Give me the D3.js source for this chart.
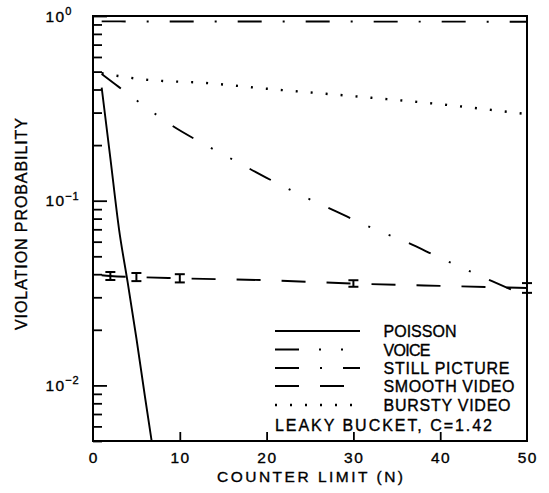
<!DOCTYPE html>
<html><head><meta charset="utf-8">
<script src="https://cdn.jsdelivr.net/npm/d3@7/dist/d3.min.js"></script>
<style>html,body{margin:0;padding:0;background:#fff;}svg{display:block;}
text{stroke:#000;stroke-width:0.35px;fill:#000;}</style>
</head><body><svg id="c" width="549" height="493"></svg>
<script>
// ---- data ----
const xTicks = [0, 10, 20, 30, 40, 50];
const yMajor = [1, 0.1, 0.01];
const yMajorExp = ["0", "\u22121", "\u22122"];

const poissonN = [1, 2, 3, 4, 5, 6, 7];
const poissonP = [0.41, 0.17, 0.07, 0.036, 0.018, 0.0086, 0.0042];

const voiceN = [1, 3, 5, 7, 9, 13, 16, 20, 24, 28, 32, 36, 40, 44, 48, 50];
const voiceP = [0.485, 0.412, 0.350, 0.299, 0.257, 0.200, 0.168, 0.133, 0.107, 0.0875, 0.0716, 0.060, 0.049, 0.0403, 0.0333, 0.0302];

const stillN = [1, 10, 20, 30, 40, 50];
const stillP = [0.935, 0.934, 0.934, 0.933, 0.932, 0.931];

const smoothN = [1, 2, 5, 10, 20, 30, 40, 50];
const smoothP = [0.0395, 0.0391, 0.0386, 0.038, 0.0371, 0.0356, 0.0346, 0.0337];
const barN  = [2, 5, 10, 30, 50];
const barLo = [0.0372, 0.0367, 0.0361, 0.0342, 0.0317];
const barHi = [0.0411, 0.0406, 0.0400, 0.0371, 0.0358];

const burstyN = [1, 2, 3, 5, 8, 12, 20, 30, 40, 50];
const burstyP = [0.49, 0.48, 0.473, 0.458, 0.445, 0.437, 0.404, 0.368, 0.333, 0.294];

const seriesNames = ["POISSON", "VOICE", "STILL PICTURE", "SMOOTH VIDEO", "BURSTY VIDEO"];
const legendNote = "LEAKY BUCKET, C=1.42";
const xTitle = "COUNTER LIMIT (N)";
const yTitle = "VIOLATION PROBABILITY";

// ---- layout ----
const L = 93, R = 527, T = 16, B = 441;
const FONT = "'Liberation Sans', Arial, sans-serif";
const svg = d3.select("#c");
const x = d3.scaleLinear().domain([0, 50]).range([L, R]);
const y = d3.scaleLog().domain([0.005, 1]).range([B, T]);

const dashes = {
  "POISSON": null,
  "VOICE": "24,20,2,20,2,20",
  "STILL PICTURE": "24,21,2,21",
  "SMOOTH VIDEO": "24,21",
  "BURSTY VIDEO": "2,13"
};

svg.append("defs").append("clipPath").attr("id", "clip")
  .append("rect").attr("x", L).attr("y", T).attr("width", R - L).attr("height", B - T);

const line = d3.line().x(d => x(d[0])).y(d => y(d[1])).curve(d3.curveMonotoneX);
const zip = (a, b) => a.map((v, i) => [v, b[i]]);

const plot = svg.append("g").attr("clip-path", "url(#clip)");
const series = [
  ["POISSON", zip(poissonN, poissonP)],
  ["VOICE", zip(voiceN, voiceP)],
  ["STILL PICTURE", zip(stillN, stillP)],
  ["SMOOTH VIDEO", zip(smoothN, smoothP)],
  ["BURSTY VIDEO", zip(burstyN, burstyP)]
];
series.forEach(([name, pts]) => {
  plot.append("path").attr("d", line(pts))
    .attr("fill", "none").attr("stroke", "#000")
    .attr("stroke-width", name === "BURSTY VIDEO" ? 2.4 : 1.9)
    .attr("stroke-dasharray", dashes[name]);
});

// error bars
const eb = svg.append("g").attr("stroke", "#000").attr("stroke-width", 2);
barN.forEach((n, i) => {
  const cx = x(n);
  eb.append("line").attr("x1", cx).attr("x2", cx).attr("y1", y(barLo[i])).attr("y2", y(barHi[i]));
  eb.append("line").attr("x1", cx - 5).attr("x2", cx + 5).attr("y1", y(barLo[i])).attr("y2", y(barLo[i]));
  eb.append("line").attr("x1", cx - 5).attr("x2", cx + 5).attr("y1", y(barHi[i])).attr("y2", y(barHi[i]));
});

// axes: left (inward ticks)
const leftAxis = d3.axisRight(y).tickValues(y.ticks()).tickSize(9).tickFormat("");
const gl = svg.append("g").attr("transform", `translate(${L},0)`).call(leftAxis);
gl.select(".domain").remove();
gl.selectAll(".tick line").attr("stroke", "#000").attr("stroke-width", 1.8)
  .attr("x2", d => yMajor.includes(d) ? 14 : 9);

const bottomAxis = d3.axisTop(x).tickValues(xTicks.slice(1, -1)).tickSize(9).tickFormat("");
const gb = svg.append("g").attr("transform", `translate(0,${B})`).call(bottomAxis);
gb.select(".domain").remove();
gb.selectAll(".tick line").attr("stroke", "#000").attr("stroke-width", 1.8);

// frame
svg.append("rect").attr("x", L).attr("y", T).attr("width", R - L).attr("height", B - T)
  .attr("fill", "none").attr("stroke", "#000").attr("stroke-width", 2);

// x tick labels
svg.append("g").selectAll("text").data(xTicks).join("text")
  .attr("x", d => x(d) + 0.8).attr("y", 463).attr("text-anchor", "middle")
  .attr("font-family", FONT).attr("font-size", 15.5).attr("letter-spacing", 1.5)
  .text(d => d);

// y tick labels 10^k
yMajor.forEach((v, i) => {
  const t = svg.append("text").attr("x", 45.5).attr("y", y(v) + 5.5)
    .attr("font-family", FONT).attr("font-size", 15.5).attr("letter-spacing", 1.3);
  t.append("tspan").text("10");
  t.append("tspan").attr("dy", -6.5).attr("font-size", 11).attr("letter-spacing", 0.8).text(yMajorExp[i]);
});

// axis titles
svg.append("text").attr("x", (L + R) / 2).attr("y", 482).attr("text-anchor", "middle")
  .attr("font-family", FONT).attr("font-size", 15.5)
  .attr("textLength", 186).attr("lengthAdjust", "spacing").text(xTitle);
svg.append("text").attr("transform", "translate(27,224) rotate(-90)").attr("text-anchor", "middle")
  .attr("font-family", FONT).attr("font-size", 16)
  .attr("textLength", 212).attr("lengthAdjust", "spacing").text(yTitle);

// legend
const legY = [331, 349.5, 368, 386, 405];
const legW = [73, 47, 126, 131, 127];
const lg = svg.append("g");
seriesNames.forEach((name, i) => {
  lg.append("line").attr("x1", 275).attr("x2", 360).attr("y1", legY[i]).attr("y2", legY[i])
    .attr("stroke", "#000").attr("stroke-width", name === "BURSTY VIDEO" ? 2.4 : 1.9)
    .attr("stroke-dasharray", dashes[name]);
  lg.append("text").attr("x", 383.5).attr("y", legY[i] + 6)
    .attr("font-family", FONT).attr("font-size", 16)
    .attr("textLength", legW[i]).attr("lengthAdjust", "spacing").text(name);
});
lg.append("text").attr("x", 275).attr("y", 430.5)
  .attr("font-family", FONT).attr("font-size", 16)
  .attr("textLength", 217).attr("lengthAdjust", "spacing").text(legendNote);
</script></body></html>
